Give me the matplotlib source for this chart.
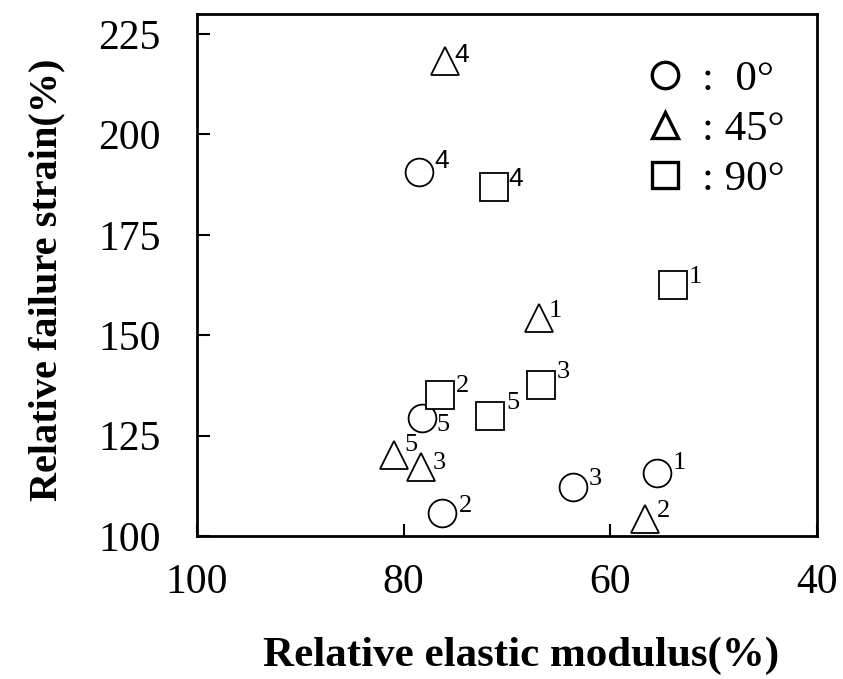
import matplotlib
matplotlib.use("Agg")
import matplotlib.pyplot as plt
from matplotlib.lines import Line2D

plt.rcParams['font.family'] = ['Liberation Serif', 'DejaVu Serif']

# relative elastic modulus (%) / relative failure strain (%) per fibre angle
circle_x = [55.5, 76.3, 63.6, 78.5, 78.2]
circle_y = [115.8, 105.8, 112.1, 190.6, 129.3]
circle_ids = ['1', '2', '3', '4', '5']

triangle_x = [66.9, 56.6, 78.3, 76.0, 80.9]
triangle_y = [154.3, 104.2, 117.1, 218.4, 120.2]
triangle_ids = ['1', '2', '3', '4', '5']

square_x = [53.9, 76.5, 66.7, 71.3, 71.6]
square_y = [162.4, 135.0, 137.7, 186.9, 129.9]
square_ids = ['1', '2', '3', '4', '5']

legend_labels = [':  0°', ': 45°', ': 90°']

# label offsets in points (dx, dy) from each marker centre
circle_off = [(16, 7), (17, 5), (16, 6), (16, 8), (15, -5)]
triangle_off = [(12, 5), (13, 6), (13, 3), (12, 4), (12, 7)]
square_off = [(16, 6), (16, 7), (16, 9), (16, 6), (16, 9)]

fig = plt.figure(figsize=(8.43, 6.79), dpi=100)
ax = fig.add_axes([0.2337, 0.2106, 0.7355, 0.7688])

mk = dict(linestyle='none', markerfacecolor='white', markeredgecolor='black',
          markeredgewidth=1.3, markersize=20)
ax.plot(circle_x, circle_y, marker='o', **mk)
ax.plot(triangle_x, triangle_y, marker='^', **mk)
ax.plot(square_x, square_y, marker='s', **mk)

for xs, ys, ids, offs in [(circle_x, circle_y, circle_ids, circle_off),
                          (triangle_x, triangle_y, triangle_ids, triangle_off),
                          (square_x, square_y, square_ids, square_off)]:
    for x, y, t, o in zip(xs, ys, ids, offs):
        # the "4" labels are set in a sans face
        fam = 'Liberation Sans' if t == '4' else 'Liberation Serif'
        ax.annotate(t, (x, y), xytext=o, textcoords='offset points',
                    ha='center', va='center', fontsize=19, family=fam)

ax.set_xlim(100, 40)
ax.set_ylim(100, 230)
ax.set_xticks([100, 80, 60, 40])
ax.set_yticks([100, 125, 150, 175, 200, 225])
ax.tick_params(direction='in', length=9, width=1.5, labelsize=30,
               top=False, right=False)
ax.tick_params(axis='x', pad=20)
ax.tick_params(axis='y', pad=26)
for s in ax.spines.values():
    s.set_linewidth(2)

ax.set_xlabel('Relative elastic modulus(%)', fontsize=31, fontweight='bold', labelpad=25)
ax.set_ylabel('Relative failure strain(%)', fontsize=29, fontweight='bold', labelpad=24)
ax.xaxis.label.set_x(0.522)
ax.yaxis.label.set_y(0.49)

handles = [Line2D([], [], marker=m, linestyle='none', markerfacecolor='white',
                  markeredgecolor='black', markeredgewidth=2.4, markersize=19)
           for m in ['o', '^', 's']]
ax.legend(handles, legend_labels, loc='upper right', bbox_to_anchor=(0.975, 0.945),
          frameon=False, fontsize=31, handlelength=1.0, handletextpad=0.35,
          labelspacing=0.25, borderaxespad=0)

fig.savefig('out.png', dpi=100)
